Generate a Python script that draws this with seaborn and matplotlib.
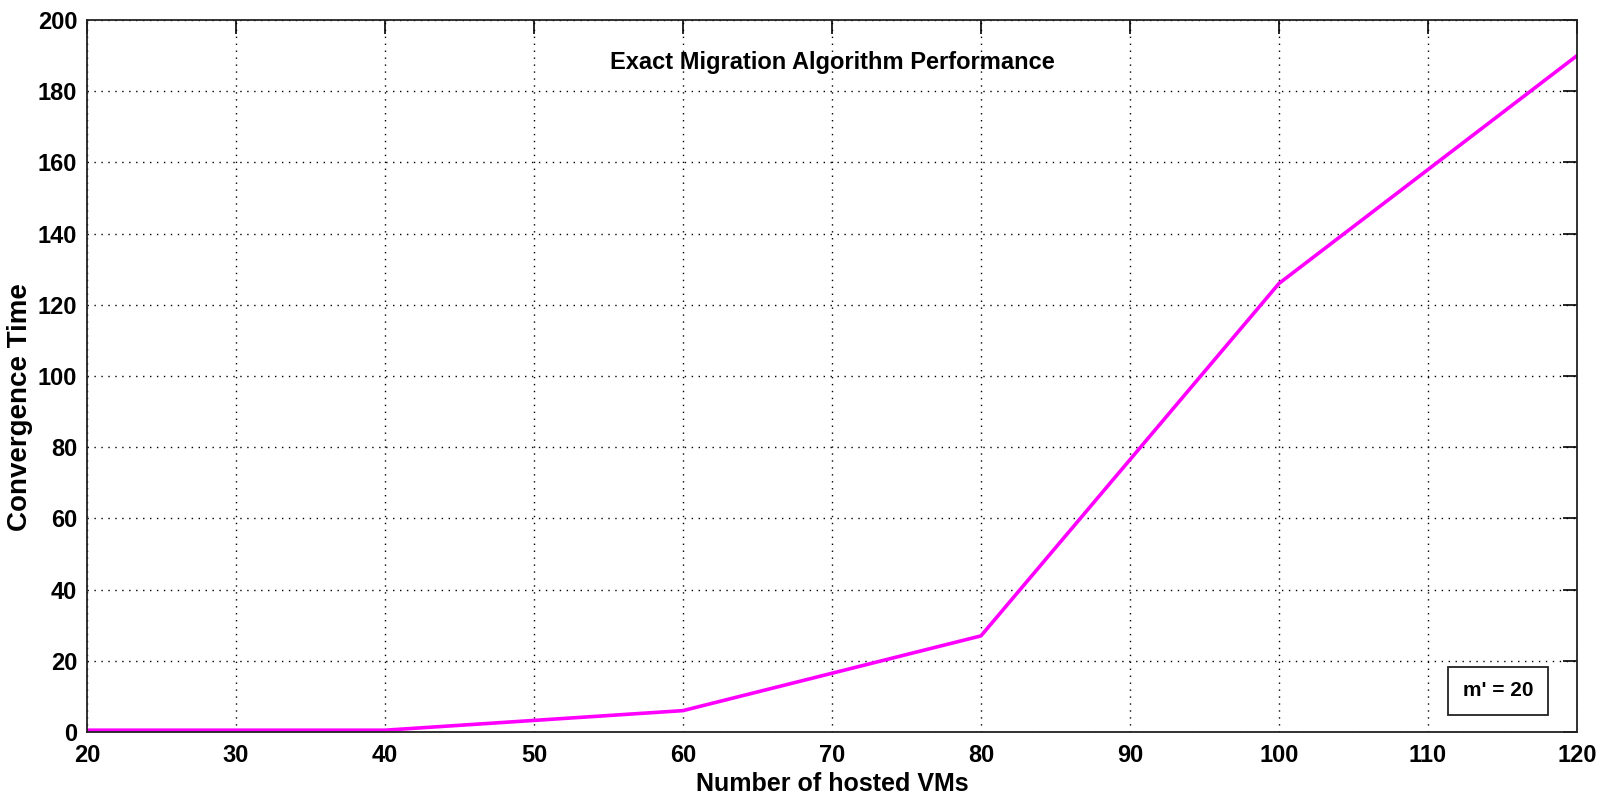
import matplotlib
matplotlib.use("Agg")
import matplotlib.pyplot as plt
import seaborn as sns
import pandas as pd
from matplotlib import font_manager

vms = [20, 30, 40, 60, 80, 100, 120]
conv_time = [0.5, 0.5, 0.5, 6, 27, 126, 190]
x_ticks = [20, 30, 40, 50, 60, 70, 80, 90, 100, 110, 120]
y_ticks = [0, 20, 40, 60, 80, 100, 120, 140, 160, 180, 200]

sns.set_style("white")
names = {f.name for f in font_manager.fontManager.ttflist}
fam = ["Liberation Sans Narrow"] if "Liberation Sans Narrow" in names else ["Liberation Sans"]
plt.rcParams["font.family"] = fam + ["DejaVu Sans"]
plt.rcParams["text.color"] = "black"
plt.rcParams["axes.labelcolor"] = "black"

df = pd.DataFrame({"VMs": vms, "Time": conv_time})

fig = plt.figure(figsize=(16.1, 8.02), dpi=100)
ax = fig.add_axes([0.054, 0.0873, 0.9255, 0.8877])
sns.lineplot(data=df, x="VMs", y="Time", ax=ax, color="#FF00FF", linewidth=2.6)

ax.set_xlim(20, 120)
ax.set_ylim(0, 200)
ax.set_xticks(x_ticks)
ax.set_yticks(y_ticks)
ax.tick_params(direction="in", length=10, width=1.2, top=True, right=True,
               labelsize=17, colors="black")
ax.tick_params(axis="x", pad=9)
ax.tick_params(axis="y", pad=7)
for lab in ax.get_xticklabels() + ax.get_yticklabels():
    lab.set_fontweight("bold")
ax.grid(True, linestyle=(0, (1, 4)), color="black", linewidth=1.0)
for s in ax.spines.values():
    s.set_color("#222222")
    s.set_linewidth(1.3)

ax.set_xlabel("Number of hosted VMs", fontsize=18, fontweight="bold", color="black")
ax.xaxis.set_label_coords(0.5, -0.056)
ax.set_ylabel("Convergence Time", fontsize=20, fontweight="bold", color="black")
ax.yaxis.set_label_coords(-0.036, 0.456)
ax.text(0.5, 0.941, "Exact Migration Algorithm Performance", transform=ax.transAxes,
        ha="center", va="center", fontsize=17, fontweight="bold", color="black")
ax.text(0.947, 0.058, "m' = 20", transform=ax.transAxes, ha="center", va="center",
        fontsize=15, fontweight="bold", color="black",
        bbox=dict(boxstyle="square,pad=0.7", facecolor="white", edgecolor="#222222", linewidth=1.3))

fig.savefig("out.png", dpi=100)
